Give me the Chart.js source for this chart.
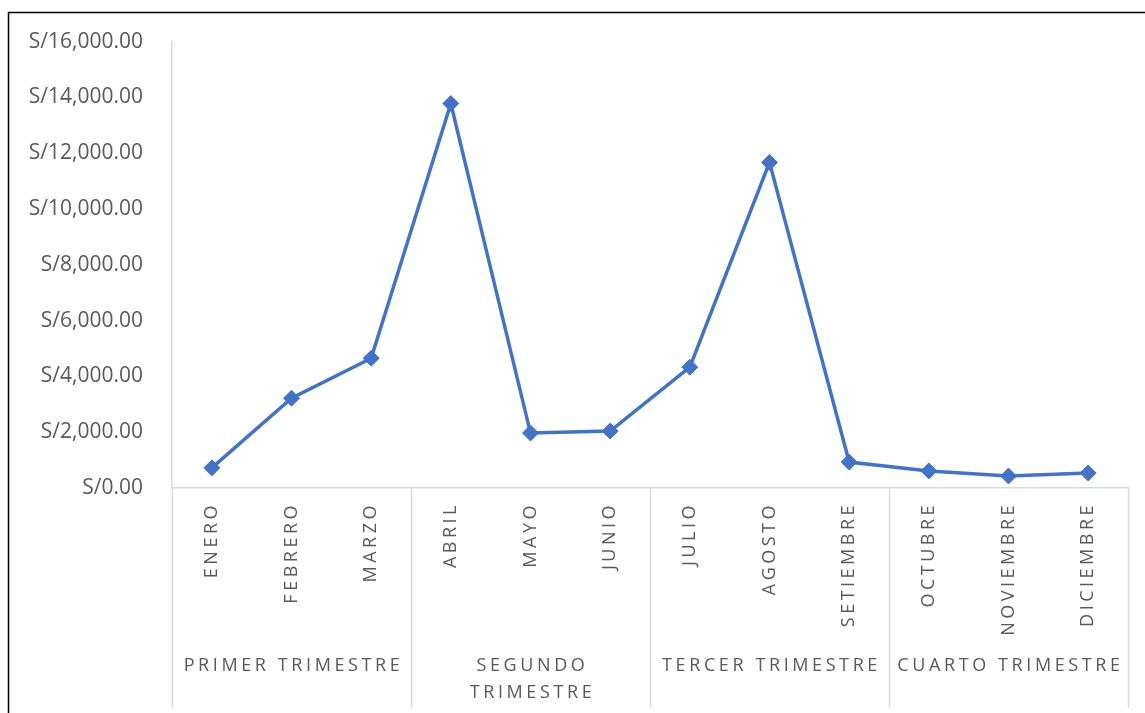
<!DOCTYPE html>
<html>
<head>
<meta charset="utf-8">
<script src="https://cdn.jsdelivr.net/npm/chart.js@4.4.1/dist/chart.umd.min.js"></script>
<style>
  html, body { margin: 0; padding: 0; background: #fff; }
  canvas { display: block; }
</style>
</head>
<body>
<canvas id="salesChart" width="1145" height="713"></canvas>
<script>
// --- data ---
const months = ['ENERO', 'FEBRERO', 'MARZO', 'ABRIL', 'MAYO', 'JUNIO',
                'JULIO', 'AGOSTO', 'SETIEMBRE', 'OCTUBRE', 'NOVIEMBRE', 'DICIEMBRE'];
const quarters = [['PRIMER TRIMESTRE'], ['SEGUNDO', 'TRIMESTRE'], ['TERCER TRIMESTRE'], ['CUARTO TRIMESTRE']];
const sales = [720, 3220, 4650, 13780, 1970, 2040, 4330, 11670, 930, 610, 430, 540];
const yMax = 16000;
const yStep = 2000;

const textGray = '#595959';
const axisGray = '#d9d9d9';
const lineBlue = '#4472c4';

const soles = v => 'S/' + v.toLocaleString('en-US', { minimumFractionDigits: 2, maximumFractionDigits: 2 });

// month labels, quarter labels and the grouping lines under the x axis
const groupedAxis = {
    id: 'groupedAxis',
    afterDraw(chart) {
        const ctx = chart.ctx;
        const x = chart.scales.x;
        const area = chart.chartArea;
        const bottom = chart.height - 5;

        ctx.save();
        // vertical separators (left axis continuation + quarter boundaries)
        ctx.strokeStyle = axisGray;
        ctx.lineWidth = 1.5;
        for (let q = 0; q <= quarters.length; q++) {
            const px = Math.round(x.getPixelForValue(q * 3 - 0.5)) + 0.5;
            ctx.beginPath();
            ctx.moveTo(px, area.bottom);
            ctx.lineTo(px, bottom);
            ctx.stroke();
        }

        ctx.fillStyle = textGray;
        // rotated month names
        ctx.font = '18px "Open Sans", sans-serif';
        ctx.letterSpacing = '3.5px';
        ctx.textAlign = 'right';
        ctx.textBaseline = 'middle';
        months.forEach((m, i) => {
            ctx.save();
            ctx.translate(x.getPixelForValue(i), area.bottom + 14);
            ctx.rotate(-Math.PI / 2);
            ctx.fillText(m, 0, 0);
            ctx.restore();
        });

        // quarter names
        ctx.font = '18px "Open Sans", sans-serif';
        ctx.letterSpacing = '3.6px';
        ctx.textAlign = 'center';
        quarters.forEach((lines, q) => {
            const cx = x.getPixelForValue(q * 3 + 1) + 2;
            lines.forEach((t, k) => ctx.fillText(t, cx, area.bottom + 178 + k * 27));
        });
        ctx.restore();

        // chart frame (only left/top edges are inside the picture)
        ctx.save();
        ctx.strokeStyle = '#000';
        ctx.lineWidth = 1.5;
        ctx.beginPath();
        ctx.moveTo(8.5, chart.height + 2);
        ctx.lineTo(8.5, 12.5);
        ctx.lineTo(chart.width + 2, 12.5);
        ctx.stroke();
        ctx.restore();
    }
};

Chart.defaults.font.family = "'Open Sans', sans-serif";

new Chart(document.getElementById('salesChart'), {
    type: 'line',
    data: {
        labels: months,
        datasets: [{
            label: 'Ventas',
            data: sales,
            borderColor: lineBlue,
            backgroundColor: lineBlue,
            borderWidth: 3.5,
            pointStyle: 'rectRot',
            pointRadius: 8,
            pointBorderWidth: 1,
            tension: 0
        }]
    },
    options: {
        responsive: false,
        animation: false,
        layout: { padding: { top: 41, right: 17, left: 0, bottom: 0 } },
        plugins: { legend: { display: false }, tooltip: { enabled: false } },
        scales: {
            x: {
                offset: true,
                grid: { display: false },
                border: { color: axisGray, width: 1.5 },
                ticks: { display: false },
                afterFit(scale) { scale.height = 225; }
            },
            y: {
                min: 0,
                max: yMax,
                grid: { display: false, drawTicks: false },
                border: { color: axisGray, width: 1.5 },
                ticks: {
                    stepSize: yStep,
                    padding: 29,
                    color: textGray,
                    font: { size: 21 },
                    callback: v => soles(v)
                },
                afterFit(scale) { scale.width = 172; }
            }
        }
    },
    plugins: [groupedAxis]
});
</script>
</body>
</html>
